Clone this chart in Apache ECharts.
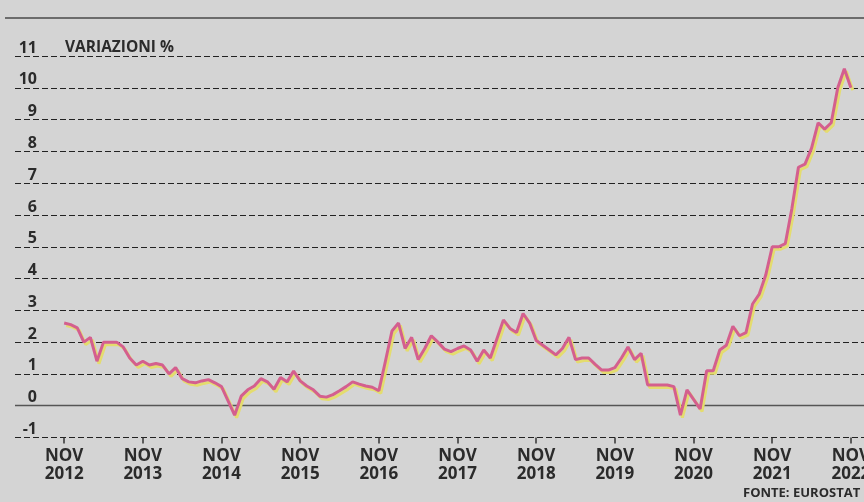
<!DOCTYPE html>
<html>
<head>
<meta charset="utf-8">
<script src="https://cdn.jsdelivr.net/npm/echarts@6/dist/echarts.min.js"></script>
<style>
html,body{margin:0;padding:0;background:#d4d4d4;}
#chart{width:864px;height:502px;}
</style>
</head>
<body>
<div id="chart"></div>
<script>
// Monthly values, Nov 2012 .. Nov 2022 (variazioni %)
const values = [
  2.6, 2.55, 2.45, 2.0, 2.15, 1.4, 2.0, 2.0, 2.0, 1.85, 1.5, 1.28,
  1.4, 1.28, 1.33, 1.28, 1.0, 1.2, 0.85, 0.75, 0.72, 0.78, 0.82, 0.72,
  0.6, 0.15, -0.3, 0.3, 0.5, 0.62, 0.85, 0.75, 0.52, 0.89, 0.75, 1.09,
  0.78, 0.62, 0.5, 0.3, 0.27, 0.35, 0.47, 0.6, 0.75, 0.68, 0.62, 0.58,
  0.47, 1.4, 2.35, 2.6, 1.8, 2.15, 1.45, 1.8, 2.2, 2.0, 1.78, 1.7,
  1.8, 1.88, 1.75, 1.4, 1.75, 1.5, 2.1, 2.7, 2.43, 2.3, 2.9, 2.6,
  2.05, 1.9, 1.75, 1.6, 1.8, 2.15, 1.45, 1.5, 1.5, 1.3, 1.12, 1.12,
  1.2, 1.5, 1.85, 1.45, 1.65, 0.65, 0.65, 0.65, 0.65, 0.6, -0.3, 0.5,
  0.2, -0.1, 1.1, 1.1, 1.75, 1.9, 2.5, 2.2, 2.3, 3.2, 3.5, 4.1,
  5.0, 5.0, 5.1, 6.2, 7.5, 7.6, 8.1, 8.9, 8.7, 8.9, 10.0, 10.6,
  10.0
];
const tickYears = ['2012','2013','2014','2015','2016','2017','2018','2019','2020','2021','2022'];
const tickMonth = 'NOV';
const yTitle = 'VARIAZIONI %';
const source = 'FONTE: EUROSTAT';

const tickPos = tickYears.map((y, i) => i * 12);
const seriesData = values.map((v, i) => [i, v]);

const chart = echarts.init(document.getElementById('chart'), null, {renderer: 'canvas'});
const inkColor = '#2b2b2b';
chart.setOption({
  backgroundColor: '#d4d4d4',
  animation: false,
  grid: {left: 15, right: 0, top: 56, bottom: 64.5, containLabel: false, outerBoundsMode: 'none'},
  xAxis: {
    type: 'value',
    min: -7.5,
    max: 122,
    axisLine: {show: false, onZero: false},
    splitLine: {show: false},
    axisTick: {show: true, customValues: tickPos, length: 6, lineStyle: {color: '#333', width: 1.5}},
    axisLabel: {
      customValues: tickPos,
      formatter: function (v) { return tickMonth + '\n' + tickYears[Math.round(v / 12)]; },
      fontFamily: 'Open Sans', fontWeight: 'bold', fontSize: 17, lineHeight: 18,
      color: inkColor, margin: 10, align: 'center', hideOverlap: false
    }
  },
  yAxis: {
    type: 'value',
    min: -1, max: 11, interval: 1,
    axisLine: {show: false},
    axisTick: {show: false},
    axisLabel: {
      inside: true, align: 'right', verticalAlign: 'bottom', margin: 22,
      fontFamily: 'Open Sans', fontWeight: 'bold', fontSize: 16, color: inkColor,
      padding: [0, 0, 0, 0]
    },
    splitLine: {show: true, lineStyle: {color: '#222', type: [6, 3], width: 1.2}}
  },
  graphic: [
    {type: 'line', shape: {x1: 5, y1: 18, x2: 864, y2: 18}, style: {stroke: '#4a4a4a', lineWidth: 1.6}, silent: true},
    {type: 'rect', shape: {x: 15, y: 403, width: 849, height: 5}, style: {fill: '#d4d4d4'}, silent: true, z: 0},
    {type: 'text', left: 65, top: 40, style: {text: yTitle, font: 'bold 15.5px "Open Sans"', fill: inkColor}, silent: true},
    {type: 'text', left: 743, top: 487, style: {text: source, font: 'bold 13px "Open Sans"', fill: inkColor}, silent: true}
  ],
  series: [{
    type: 'line',
    data: seriesData,
    showSymbol: false,
    symbol: 'none',
    lineStyle: {color: '#d45f8e', width: 3, shadowColor: '#e4dc6e', shadowOffsetX: 2, shadowOffsetY: 2.5, shadowBlur: 0},
    markLine: {
      silent: true,
      symbol: 'none',
      label: {show: false},
      lineStyle: {color: '#555', type: 'solid', width: 1.4},
      data: [{yAxis: 0}]
    },
    z: 5
  }]
});
</script>
</body>
</html>
